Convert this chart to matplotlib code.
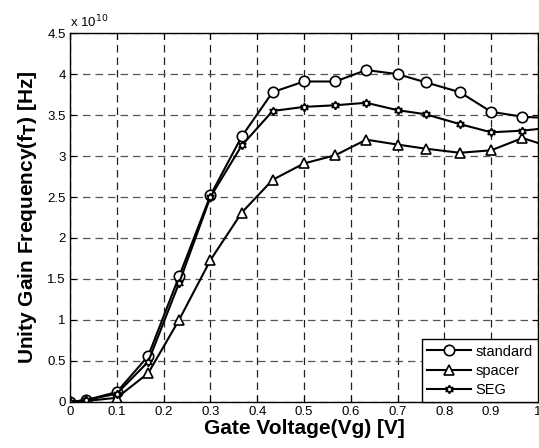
import matplotlib
matplotlib.use('Agg')
from matplotlib import pyplot as plt

plt.rcParams['font.family'] = ['Liberation Sans', 'DejaVu Sans']

# gate voltage sweep [V]; last point lies just past the plotted range
vg = [0, 0.033, 0.1, 0.167, 0.233, 0.3, 0.367, 0.433, 0.5, 0.567,
      0.633, 0.7, 0.76, 0.833, 0.9, 0.967, 1.033]

# unity gain frequency in units of 1e10 Hz
ft_standard = [0.0, 0.02, 0.12, 0.56, 1.53, 2.52, 3.24, 3.78, 3.91, 3.91,
               4.05, 4.00, 3.90, 3.78, 3.54, 3.48, 3.46]
ft_spacer = [0.0, 0.01, 0.05, 0.35, 1.00, 1.73, 2.31, 2.71, 2.91, 3.01,
             3.20, 3.14, 3.09, 3.04, 3.07, 3.22, 3.10]
ft_seg = [0.0, 0.02, 0.10, 0.49, 1.45, 2.50, 3.13, 3.55, 3.60, 3.62,
          3.65, 3.56, 3.51, 3.39, 3.29, 3.31, 3.35]

xticks = [0, 0.1, 0.2, 0.3, 0.4, 0.5, 0.6, 0.7, 0.8, 0.9, 1]
xticklabels = ['0', '0.1', '0.2', '0.3', '0.4', '0.5', '0.6', '0.7', '0.8', '0.9', '1']
yticks = [0, 0.5, 1, 1.5, 2, 2.5, 3, 3.5, 4, 4.5]
yticklabels = ['0', '0.5', '1', '1.5', '2', '2.5', '3', '3.5', '4', '4.5']

fig = plt.figure(figsize=(5.39, 4.48), dpi=100)
ax = fig.add_axes([0.130, 0.103, 0.868, 0.823])

style = dict(color='k', lw=1.5, markerfacecolor='white', markeredgecolor='k',
             markeredgewidth=1.2)
ax.plot(vg, ft_standard, marker='o', markersize=7.5, label='standard', **style)
ax.plot(vg, ft_spacer, marker='^', markersize=7.5, label='spacer', **style)
ax.plot(vg, ft_seg, marker=(6, 1, 0), markersize=6, label='SEG', **style)

ax.set_xlim(0, 1)
ax.set_ylim(0, 4.5)
ax.set_xticks(xticks)
ax.set_xticklabels(xticklabels)
ax.set_yticks(yticks)
ax.set_yticklabels(yticklabels)
ax.tick_params(direction='in', top=True, right=True, labelsize=9.5, length=4, width=0.8, pad=3)

# dashed grid
ax.grid(axis='x', color='#222222', linestyle=(0, (6, 4)), linewidth=0.9)
ax.grid(axis='y', color='#555555', linestyle=(0, (6, 4)), linewidth=0.9)
ax.set_axisbelow(True)
for s in ax.spines.values():
    s.set_linewidth(1.0)

ax.text(0.0, 1.008, r'x 10$^{10}$', transform=ax.transAxes, fontsize=9.5, va='bottom', ha='left')

ax.set_xlabel('Gate Voltage(Vg) [V]', fontsize=15, fontweight='bold', labelpad=1)
ax.set_ylabel(r'Unity Gain Frequency(f$_\mathbf{T}$) [Hz]', fontsize=15, fontweight='bold', labelpad=6)

leg = ax.legend(loc='lower right', bbox_to_anchor=(1, 0), borderaxespad=0, fontsize=10.5,
                fancybox=False, framealpha=1, edgecolor='k', handlelength=3,
                handletextpad=0.3, labelspacing=0.35, borderpad=0.35)
leg.get_frame().set_linewidth(1.0)

fig.savefig('out.png', dpi=100)
